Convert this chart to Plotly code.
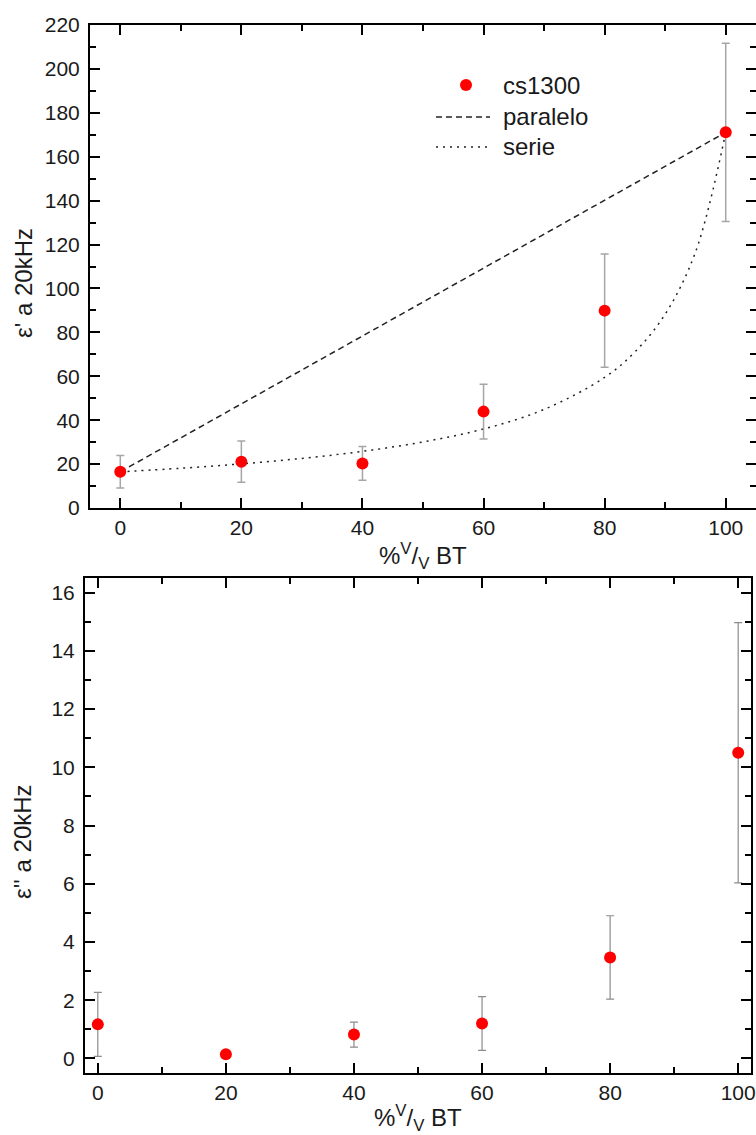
import plotly.graph_objects as go

# ---- data ----
bt_pct = [0, 20, 40, 60, 80, 100]
eps1 = [16.5, 21.1, 20.3, 43.9, 89.9, 171.1]
eps1_err = [7.4, 9.4, 7.7, 12.5, 25.8, 40.6]

paralelo_x = [0, 100]
paralelo_y = [16.5, 171.1]

serie_x = [0, 10, 20, 30, 40, 50, 60, 70, 80, 85, 90, 95, 100]
serie_y = [16.5, 18.1, 20.1, 22.6, 25.8, 30.1, 36.0, 44.9, 59.5, 71.1, 88.3, 116.5, 171.1]

eps2 = [1.17, 0.14, 0.82, 1.20, 3.47, 10.5]
eps2_err = [1.10, 0.05, 0.43, 0.92, 1.43, 4.47]

legend_names = ["cs1300", "paralelo", "serie"]

W, H = 756, 1135
FONT = "Arial, Liberation Sans, sans-serif"
TXT = "#1a1a1a"
RED = "#ff0000"
DASH = "6px,4px"
DOT = "2px,5px"

fig = go.Figure()

fig.add_trace(go.Scatter(
    x=paralelo_x, y=paralelo_y, mode="lines", name=legend_names[1],
    line=dict(color="#222222", width=1.5, dash=DASH),
    xaxis="x", yaxis="y"))
fig.add_trace(go.Scatter(
    x=serie_x, y=serie_y, mode="lines", name=legend_names[2],
    line=dict(color="#222222", width=1.5, dash=DOT, shape="spline"),
    xaxis="x", yaxis="y"))
fig.add_trace(go.Scatter(
    x=bt_pct, y=eps1, mode="markers", name=legend_names[0],
    marker=dict(color=RED, size=12),
    error_y=dict(type="data", array=eps1_err, color="#a6a6a6", thickness=1.5, width=4),
    xaxis="x", yaxis="y"))

fig.add_trace(go.Scatter(
    x=bt_pct, y=eps2, mode="markers", name=legend_names[0],
    marker=dict(color=RED, size=12),
    error_y=dict(type="data", array=eps2_err, color="#8c8c8c", thickness=1.2, width=4),
    xaxis="x2", yaxis="y2"))

def ax(domain, rng, dtick, minor, anchor, standoff=0):
    return dict(
        domain=domain, range=rng, anchor=anchor,
        showline=True, linecolor="black", linewidth=2, mirror="ticks",
        ticks="inside", ticklen=10, tickwidth=2, tickcolor="black",
        dtick=dtick, tick0=0,
        minor=dict(ticks="inside", ticklen=6, tickwidth=2, tickcolor="black", dtick=minor, tick0=0),
        showgrid=False, zeroline=False, automargin=False,
        ticklabelstandoff=standoff,
        tickfont=dict(family=FONT, size=21, color=TXT),
    )

layout = dict(
    width=W, height=H,
    margin=dict(l=0, r=0, t=0, b=0),
    paper_bgcolor="white", plot_bgcolor="white",
    showlegend=False,
    font=dict(family=FONT, color=TXT),
)
layout["xaxis"] = ax([90 / W, 1.0], [-5, 105], 20, 10, "y")
layout["yaxis"] = ax([1 - 508 / H, 1 - 25 / H], [0, 220], 20, 10, "x", standoff=4)
layout["xaxis2"] = ax([85 / W, 751 / W], [-2, 102], 20, 10, "y2")
layout["yaxis2"] = ax([1 - 1073 / H, 1 - 578 / H], [-0.5, 16.5], 2, 1, "x2", standoff=4)
fig.update_layout(**layout)

# ---- hand-drawn legend (paper coordinates) ----
def px(x):
    return x / W

def py(y):
    return 1 - y / H

rows = [85, 117, 147]
fig.add_shape(type="circle", xref="paper", yref="paper",
              x0=px(460), x1=px(472), y0=py(rows[0] + 6), y1=py(rows[0] - 6),
              fillcolor=RED, line=dict(color=RED, width=0))
fig.add_shape(type="line", xref="paper", yref="paper",
              x0=px(436), x1=px(490), y0=py(rows[1]), y1=py(rows[1]),
              line=dict(color="#222222", width=1.5, dash=DASH))
fig.add_shape(type="line", xref="paper", yref="paper",
              x0=px(436), x1=px(490), y0=py(rows[2]), y1=py(rows[2]),
              line=dict(color="#222222", width=1.5, dash=DOT))
for name, ry in zip(legend_names, rows):
    fig.add_annotation(xref="paper", yref="paper", showarrow=False,
                       x=px(501), y=py(ry), xanchor="left", yanchor="middle",
                       text=name, font=dict(family=FONT, size=24, color=TXT))

xt = "%<sup>V</sup>/<sub>V</sub> BT"
anns = [
    dict(text="ε' a 20kHz", x=px(23), y=py(283), textangle=-90),
    dict(text="ε'' a 20kHz", x=px(23), y=py(842), textangle=-90),
    dict(text=xt, x=px(423), y=py(556), textangle=0),
    dict(text=xt, x=px(418), y=py(1118), textangle=0),
]
for a in anns:
    fig.add_annotation(xref="paper", yref="paper", showarrow=False,
                       xanchor="center", yanchor="middle",
                       font=dict(family=FONT, size=24, color=TXT), **a)

fig.write_html("out.html")
